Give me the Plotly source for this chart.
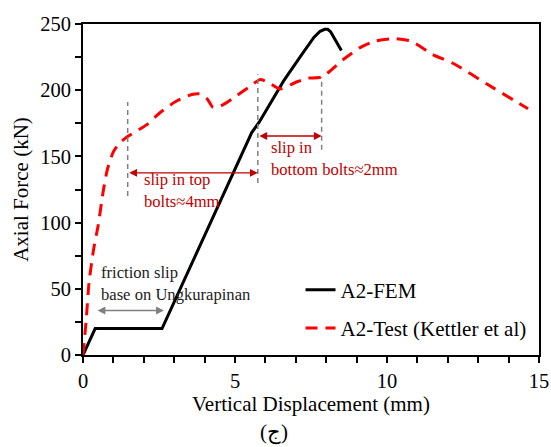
import plotly.graph_objects as go

# A2 specimen: axial force vs vertical displacement
fem_disp = [0.0, 0.4, 2.6, 3.1, 4.3, 5.0, 5.55, 5.8, 6.6, 7.2, 7.6, 7.8, 7.95, 8.05, 8.15, 8.3, 8.5]
fem_force = [0, 20, 20, 45, 105, 140, 168, 176, 207, 227, 240, 244.5, 246, 246, 244, 238, 230]

test_disp = [0.0, 0.1, 0.2, 0.35, 0.5, 0.66, 0.8, 0.99, 1.2, 1.47, 2.1, 2.53, 3.09,
             3.62, 3.9, 4.1, 4.28, 4.6, 5.0, 5.5, 5.82, 6.1, 6.48, 7.0, 7.37, 7.86,
             8.55, 9.1, 9.6, 10.26, 10.8, 11.5, 12.2, 13.3, 14.64]
test_force = [0, 25, 55, 80, 98, 123, 140, 153, 160, 165, 174, 183, 192,
              197, 197, 193, 187, 189, 195, 203, 208, 206, 201, 206, 209, 210,
              223, 232, 237, 239, 237, 227, 220, 204.5, 186]

# Slip markers (dashed guides) and arrow extents
guide_x = [1.47, 5.75, 7.85]
guide_lo = [120, 130, 155]
guide_hi = [191, 212, 210]

serif = "Liberation Serif, Times New Roman, serif"
red_txt = "#C00000"

fig = go.Figure()
fig.add_trace(go.Scatter(x=fem_disp, y=fem_force, mode="lines", name="A2-FEM",
                         legendgroup="fem",
                         line=dict(color="black", width=3)))
fig.add_trace(go.Scatter(x=test_disp, y=test_force, mode="lines",
                         name="A2-Test (Kettler et al)", legendgroup="test",
                         line=dict(color="#FF0000", width=3, dash="12px,8px",
                                   shape="spline", smoothing=0.6)))

for gx, lo, hi in zip(guide_x, guide_lo, guide_hi):
    fig.add_shape(type="line", x0=gx, x1=gx, y0=lo, y1=hi, xref="x", yref="y",
                  line=dict(color="#808080", width=1.5, dash="5px,4px"))

def double_arrow(x0, x1, y, color):
    fig.add_annotation(x=x1, y=y, ax=x0, ay=y, xref="x", yref="y", axref="x", ayref="y",
                       text="", showarrow=True, arrowhead=2, arrowside="end+start",
                       arrowsize=1.2, arrowwidth=1.3, arrowcolor=color)

double_arrow(guide_x[0], guide_x[1], 137.6, red_txt)
double_arrow(guide_x[1], guide_x[2], 165.4, red_txt)
double_arrow(0.43, 2.66, 33.6, "#808080")

def label(x, y, text, color):
    fig.add_annotation(x=x, y=y, xref="x", yref="y", text=text, showarrow=False,
                       xanchor="left", yanchor="middle", align="left",
                       font=dict(family=serif, size=16.6, color=color))

label(1.93, 124.0, "slip in top<br>bolts≈4mm", red_txt)
label(6.13, 148.5, "slip in<br>bottom bolts≈2mm", red_txt)
label(0.53, 54.3, "friction slip<br>base on Ungkurapinan", "#222222")

fig.add_annotation(x=0.419, y=0.0, xref="paper", yref="paper", yshift=-77,
                   text="(ج)", showarrow=False, xanchor="center", yanchor="middle",
                   font=dict(family=serif, size=21, color="black"))

axis_common = dict(showline=True, linecolor="black", linewidth=2, mirror=True,
                   ticks="outside", ticklen=6, tickwidth=1.5, tickcolor="black",
                   showgrid=False, zeroline=False, automargin=False,
                   tickfont=dict(family=serif, size=20.5, color="black"))

fig.update_xaxes(range=[0, 15], tick0=0, dtick=5,
                 minor=dict(ticks="outside", ticklen=6, tickwidth=1.5,
                            tickcolor="black", dtick=1),
                 title=dict(text="Vertical Displacement (mm)",
                            font=dict(family=serif, size=21, color="black"), standoff=5),
                 **axis_common)
fig.update_yaxes(range=[0, 250], tick0=0, dtick=50,
                 minor=dict(ticks="outside", ticklen=6, tickwidth=1.5,
                            tickcolor="black", dtick=25),
                 title=dict(text="Axial Force (kN)",
                            font=dict(family=serif, size=21, color="black"), standoff=6),
                 **axis_common)

fig.update_layout(
    width=551, height=447,
    margin=dict(l=83, r=12, t=24, b=92),
    paper_bgcolor="white", plot_bgcolor="white",
    showlegend=True,
    legend=dict(x=0.477, y=0.139, xanchor="left", yanchor="middle",
                traceorder="grouped", tracegroupgap=8,
                bgcolor="rgba(0,0,0,0)",
                font=dict(family=serif, size=21, color="black")),
)

fig.write_html("out.html")
